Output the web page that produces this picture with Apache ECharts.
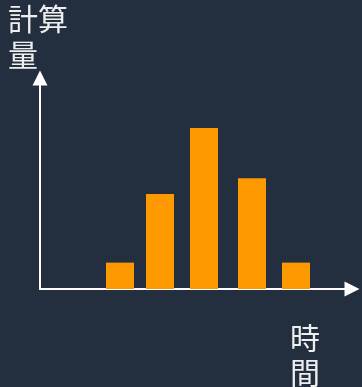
<!DOCTYPE html>
<html>
<head>
<meta charset="utf-8">
<script src="https://cdn.jsdelivr.net/npm/echarts@6/dist/echarts.min.js"></script>
<style>
    html, body { margin: 0; padding: 0; background: #232f3e; }
    #chart { width: 362px; height: 387px; }
</style>
</head>
<body>
<div id="chart"></div>
<script>
// 時間（横軸）の位置と計算量
const timePoints = [2.0, 3.0, 4.1, 5.3, 6.4]
const computeValues = [1, 3.6, 6.1, 4.2, 1]
const yAxisName = '計算\n量'
const xAxisName = '時\n間'

const eChart = echarts.init(document.getElementById('chart'))

let seriesData = []
for (let i = 0; i < timePoints.length; i++) {
    seriesData.push([timePoints[i], computeValues[i]])
}

const axisLineStyle = {
    show: true,
    symbol: ['none', 'triangle'],
    symbolSize: [15, 15],
    lineStyle: { color: '#ffffff', width: 2 }
}

let ChartOption = {
    backgroundColor: '#232f3e',
    textStyle: { fontFamily: '"Noto Sans CJK JP", sans-serif' },
    grid: { left: 40, right: 10, top: 78, bottom: 98, outerBoundsMode: 'none' },
    xAxis: {
        type: 'value',
        min: 0,
        max: 7.8,
        axisLine: axisLineStyle,
        axisTick: { show: false },
        axisLabel: { show: false },
        splitLine: { show: false }
    },
    yAxis: {
        type: 'value',
        min: 0,
        max: 8,
        axisLine: axisLineStyle,
        axisTick: { show: false },
        axisLabel: { show: false },
        splitLine: { show: false }
    },
    graphic: [{
        type: 'text',
        left: 8,
        top: 1,
        style: {
            text: yAxisName,
            fill: '#eeeeee',
            font: '30px "Noto Sans CJK JP", sans-serif',
            lineHeight: 36
        }
    }, {
        type: 'text',
        left: 290,
        top: 320,
        style: {
            text: xAxisName,
            fill: '#eeeeee',
            font: '30px "Noto Sans CJK JP", sans-serif',
            lineHeight: 35
        }
    }],
    series: [{
        type: 'bar',
        data: seriesData,
        barWidth: 28,
        itemStyle: { color: '#ff9900' }
    }]
}
eChart.setOption(ChartOption, true)
</script>
</body>
</html>
